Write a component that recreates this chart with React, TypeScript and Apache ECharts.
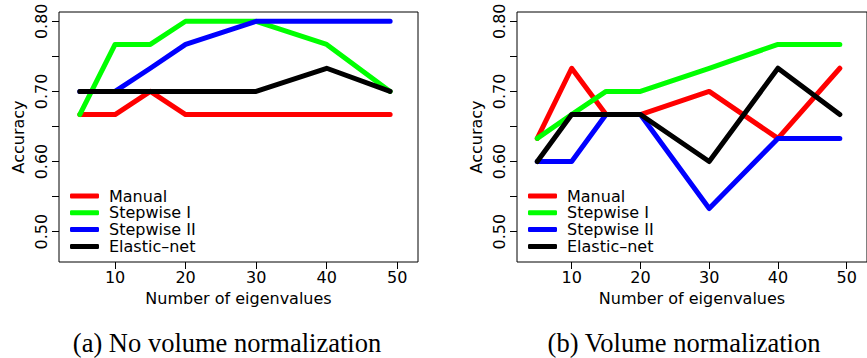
import React, { useEffect, useRef } from "react";
import * as echarts from "echarts";

const eigenvalues = [5, 10, 15, 20, 30, 40, 49];
const seriesNames = ["Manual", "Stepwise I", "Stepwise II", "Elastic\u2013net"];
const seriesColors = ["#ff0000", "#00ff00", "#0000ff", "#000000"];

// (a) No volume normalization
const manualA = [0.667, 0.667, 0.7, 0.667, 0.667, 0.667, 0.667];
const stepwise1A = [0.667, 0.767, 0.767, 0.8, 0.8, 0.767, 0.7];
const stepwise2A = [0.7, 0.7, 0.733, 0.767, 0.8, 0.8, 0.8];
const elasticA = [0.7, 0.7, 0.7, 0.7, 0.7, 0.733, 0.7];

// (b) Volume normalization
const manualB = [0.633, 0.733, 0.667, 0.667, 0.7, 0.633, 0.733];
const stepwise1B = [0.633, 0.667, 0.7, 0.7, 0.733, 0.767, 0.767];
const stepwise2B = [0.6, 0.6, 0.667, 0.667, 0.533, 0.633, 0.633];
const elasticB = [0.6, 0.667, 0.667, 0.667, 0.6, 0.733, 0.667];

const xTicks = [10, 20, 30, 40, 50];
const yTicks = [0.5, 0.55, 0.6, 0.65, 0.7, 0.75, 0.8];
const yLabels = [0.5, 0.6, 0.7, 0.8];
const captions = ["(a) No volume normalization", "(b) Volume normalization"];

const FONT = "DejaVu Sans, Liberation Sans, Arial, sans-serif";
const SERIF = "Liberation Serif, Times New Roman, serif";

export default function App() {
  const ref = useRef<HTMLDivElement>(null);
  useEffect(() => {
    document.body.style.margin = "0";
    if (!ref.current) return;
    const chart = echarts.init(ref.current, null, { renderer: "svg" });
    const panels = [
      [manualA, stepwise1A, stepwise2A, elasticA],
      [manualB, stepwise1B, stepwise2B, elasticB],
    ];
    const gridLefts = [59, 517];
    const grids = gridLefts.map((l) => ({
      left: l,
      top: 12,
      width: 359,
      height: 250,
      show: true,
      borderColor: "#000",
      borderWidth: 1,
      backgroundColor: "transparent",
    }));
    const xAxes = gridLefts.map((_, i) => ({
      type: "value",
      gridIndex: i,
      min: 2.05,
      max: 52.95,
      name: "Number of eigenvalues",
      nameLocation: "middle",
      nameGap: 28,
      nameTextStyle: { fontFamily: FONT, fontSize: 16, color: "#000" },
      axisLine: { show: false },
      splitLine: { show: false },
      axisTick: { show: true, length: 7, customValues: xTicks, lineStyle: { color: "#000" } },
      axisLabel: {
        customValues: xTicks,
        margin: 7,
        fontFamily: FONT,
        fontSize: 16,
        color: "#000",
      },
    }));
    const yAxes = gridLefts.map((_, i) => ({
      type: "value",
      gridIndex: i,
      min: 0.4568,
      max: 0.8132,
      name: "Accuracy",
      nameLocation: "middle",
      nameRotate: 90,
      nameGap: 33,
      nameTextStyle: { fontFamily: FONT, fontSize: 16, color: "#000" },
      axisLine: { show: false },
      splitLine: { show: false },
      axisTick: { show: true, length: 7, customValues: yTicks, lineStyle: { color: "#000" } },
      axisLabel: {
        customValues: yLabels,
        rotate: 90,
        margin: 10,
        fontFamily: FONT,
        fontSize: 16,
        color: "#000",
        formatter: (v: number) => v.toFixed(2),
      },
    }));
    const series: any[] = [];
    panels.forEach((panel, p) => {
      panel.forEach((vals, k) => {
        series.push({
          type: "line",
          name: seriesNames[k],
          xAxisIndex: p,
          yAxisIndex: p,
          data: eigenvalues.map((x, j) => [x, vals[j]]),
          symbol: "none",
          color: seriesColors[k],
          lineStyle: { width: 5, color: seriesColors[k], cap: "round", join: "round" },
          z: 2 + k,
        });
      });
    });
    const legends = gridLefts.map((l) => ({
      orient: "vertical",
      left: l + 11,
      top: 187.6,
      padding: 0,
      itemGap: 0,
      itemWidth: 29,
      itemHeight: 5,
      icon: "roundRect",
      data: seriesNames,
      selectedMode: false,
      textStyle: {
        fontFamily: FONT,
        fontSize: 16,
        lineHeight: 16.8,
        color: "#000",
        padding: [0, 0, 0, 5],
      },
    }));
    chart.setOption({
      animation: false,
      backgroundColor: "#fff",
      grid: grids,
      xAxis: xAxes,
      yAxis: yAxes,
      legend: legends,
      series,
      graphic: [
        {
          type: "text",
          x: 227,
          y: 343,
          style: {
            text: captions[0],
            fontFamily: SERIF,
            fontSize: 26.5,
            fill: "#000",
            align: "center",
            verticalAlign: "middle",
          },
        },
        {
          type: "text",
          x: 684,
          y: 343,
          style: {
            text: captions[1],
            fontFamily: SERIF,
            fontSize: 26.5,
            fill: "#000",
            align: "center",
            verticalAlign: "middle",
          },
        },
      ],
    });
    return () => chart.dispose();
  }, []);
  return <div ref={ref} style={{ width: 867, height: 358 }} />;
}
